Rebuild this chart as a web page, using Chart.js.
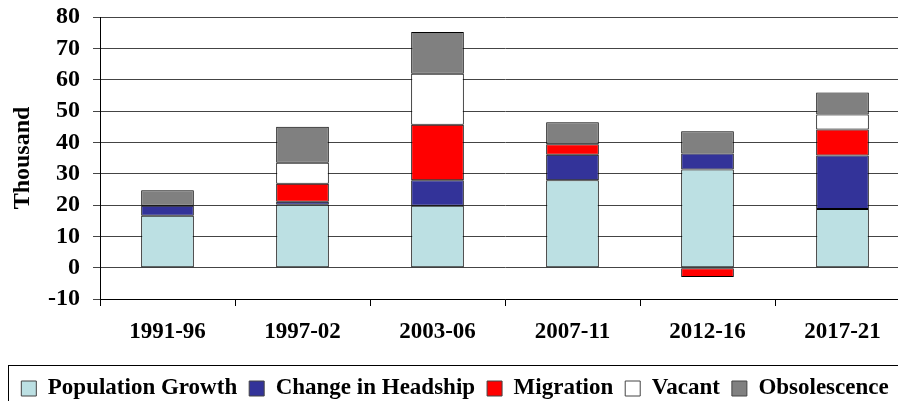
<!DOCTYPE html>
<html><head><meta charset="utf-8">
<script src="https://cdn.jsdelivr.net/npm/chart.js@4.4.0/dist/chart.umd.min.js"></script>
<style>
html,body{margin:0;padding:0;background:#fff;overflow:hidden;}
#wrap{width:910px;height:401px;position:relative;}
</style></head>
<body><div id="wrap"><canvas id="c" width="910" height="401"></canvas></div>
<script>
const categories = ["1991-96","1997-02","2003-06","2007-11","2012-16","2017-21"];
const populationGrowth = [16.6, 20.1, 19.8, 27.9, 31.3, 18.7];
const changeInHeadship = [3.2, 0.9, 8.1, 8.1, 5.1, 17.1];
const migration = [0, 5.8, 17.7, 3.4, -3.0, 8.3];
const vacant = [0, 6.7, 16.3, 0, 0, 4.8];
const obsolescence = [4.9, 11.5, 13.3, 7.0, 7.1, 7.0];
const yTicks = [-10,0,10,20,30,40,50,60,70,80];

const FONT = "'Liberation Serif','Times New Roman',serif";
function ds(label, data, color){
  return {label, data, backgroundColor: color, borderColor: '#000',
    borderWidth: c => (c.raw === 0 ? 0 : 1),
    barPercentage: 0.39, categoryPercentage: 1.0, borderSkipped: false};
}
const legendFix = {
  id: 'legendFix',
  afterInit(chart){
    const lg = chart.legend;
    const orig = lg.fit.bind(lg);
    lg.fit = function(){ orig(); this.height = 36; };
  },
  afterDraw(chart){
    const l = chart.legend;
    const ctx = chart.ctx;
    ctx.save();
    ctx.strokeStyle = '#000';
    ctx.lineWidth = 1;
    ctx.strokeRect(8.5, l.top + 0.5, 1000, 100);
    ctx.restore();
  }
};
new Chart(document.getElementById('c'), {
  type: 'bar',
  data: {
    labels: categories,
    datasets: [
      ds('Population Growth', populationGrowth, '#bce0e3'),
      ds('Change in Headship', changeInHeadship, '#333399'),
      ds('Migration', migration, '#ff0000'),
      ds('Vacant', vacant, '#ffffff'),
      ds('Obsolescence', obsolescence, '#808080')
    ]
  },
  options: {
    responsive: false,
    animation: false,
    layout: {padding: {top: 0, left: 0, right: 0, bottom: 0}},
    plugins: {
      tooltip: {enabled: false},
      legend: {
        position: 'bottom',
        labels: {
          font: {family: FONT, size: 23, weight: 'bold'},
          color: '#000',
          boxWidth: 15, boxHeight: 15, padding: 12,
          generateLabels(chart){
            return chart.data.datasets.map((d,i)=>({
              text: d.label, fillStyle: d.backgroundColor, strokeStyle: '#444', lineWidth: 1,
              hidden: false, datasetIndex: i, fontColor: '#000'
            }));
          }
        }
      }
    },
    scales: {
      x: {
        stacked: true,
        afterFit(a){ a.height = 66; },
        grid: {display: true, drawOnChartArea: false, offset: true, tickLength: 7, color: '#000'},
        border: {color: '#000', width: 1},
        ticks: {font: {family: FONT, size: 23, weight: 'bold'}, color: '#000', padding: 12}
      },
      y: {
        stacked: true,
        min: -10, max: 80,
        afterFit(a){ a.width = 100; a.paddingTop = 17; a.paddingBottom = 0; },
        afterBuildTicks(axis){ axis.ticks = yTicks.map(v=>({value:v})); },
        grid: {color: '#444', tickLength: 7, lineWidth: 1},
        border: {color: '#000', width: 1},
        ticks: {font: {family: FONT, size: 24, weight: 'bold'}, color: '#000', padding: 13, autoSkip: false},
        title: {display: true, text: 'Thousand', font: {family: FONT, size: 24, weight: 'bold'}, color: '#000', padding: {top: 8, bottom: 0}}
      }
    }
  },
  plugins: [legendFix]
});
</script></body></html>
